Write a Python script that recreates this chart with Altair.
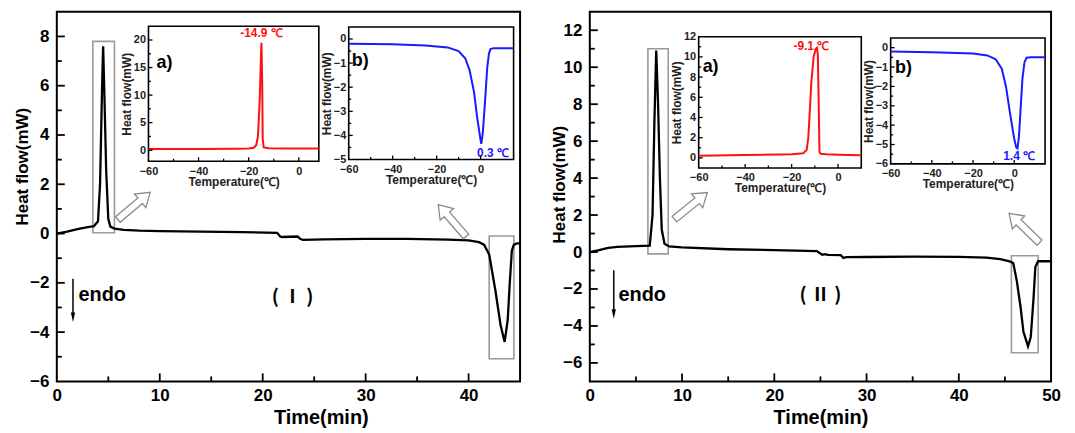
import altair as alt
import pandas as pd

FONT = "Liberation Sans"
CJK = "Noto Sans CJK SC"

# ---------------- data ----------------
# Panel (I): main DSC curve
time_I = [0, 1, 2, 3, 3.6, 4.0, 4.2, 4.4, 4.5, 4.6, 4.8, 5.0, 5.2, 5.6, 6.5, 8, 10, 14, 18, 21.4,
          21.7, 21.9, 23.4, 23.6, 23.9, 26, 30, 34, 38, 40, 41, 41.5, 42.0, 42.6, 43.1, 43.5, 43.8,
          44.0, 44.2, 44.4, 44.7, 45]
flow_I = [0.0, 0.08, 0.18, 0.26, 0.3, 0.5, 2.0, 6.0, 7.6, 6.0, 2.5, 0.6, 0.28, 0.2, 0.15, 0.12, 0.1,
          0.08, 0.06, 0.03, -0.12, -0.14, -0.12, -0.2, -0.26, -0.24, -0.22, -0.22, -0.25, -0.28,
          -0.35, -0.45, -0.85, -2.3, -3.7, -4.4, -3.5, -2.0, -0.7, -0.45, -0.4, -0.4]

# Panel (II): main DSC curve
time_II = [0, 1, 2, 3, 5, 6.5, 6.8, 7.0, 7.2, 7.4, 7.6, 7.8, 8.1, 8.6, 10, 15, 20, 24.6, 25.2, 25.5,
           25.8, 27.2, 27.5, 27.8, 30, 35, 40, 43, 44.5, 45.5, 45.9, 46.3, 46.7, 47.0, 47.5, 47.8,
           48.1, 48.3, 48.6, 50]
flow_II = [0.0, 0.1, 0.22, 0.28, 0.32, 0.35, 2.0, 7.0, 10.9, 8.0, 4.0, 1.2, 0.45, 0.3, 0.25, 0.15,
           0.1, 0.05, -0.15, -0.12, -0.15, -0.17, -0.32, -0.28, -0.27, -0.25, -0.26, -0.3, -0.38,
           -0.5, -0.6, -1.6, -3.0, -4.3, -5.1, -4.6, -2.5, -0.8, -0.5, -0.5]

# Insets: temperature (C) vs heat flow (mW)
tempA_I = [-60, -40, -25, -20, -18, -17, -16.3, -15.6, -15.1, -14.9, -14.6, -14.4, -14.0, -12, -5, 0, 8]
flowA_I = [0.2, 0.22, 0.27, 0.3, 0.45, 0.9, 2.5, 9.0, 17.0, 19.5, 12.0, 2.0, 0.5, 0.35, 0.3, 0.3, 0.3]
tempB_I = [-60, -40, -25, -15, -10, -7, -5, -3, -1.5, 0, 0.3, 1, 2, 3, 3.8, 4.5, 6, 15]
flowB_I = [-0.2, -0.22, -0.27, -0.35, -0.5, -0.8, -1.3, -2.2, -3.3, -4.2, -4.35, -3.9, -2.6, -1.2,
           -0.6, -0.42, -0.38, -0.38]
tempA_II = [-60, -40, -20, -15, -13.5, -12.8, -12.2, -11.5, -10.5, -9.6, -9.1, -8.7, -8.3, -8.0, -7.5, -5, 0, 10]
flowA_II = [0.2, 0.28, 0.35, 0.45, 0.8, 2.0, 4.5, 7.5, 10.0, 10.8, 10.9, 10.2, 5.0, 0.6, 0.4, 0.35, 0.3, 0.25]
tempB_II = [-60, -40, -20, -13, -9, -6, -4, -2, 0, 1, 1.6, 2.3, 3.2, 4, 5, 6, 8, 15]
flowB_II = [-0.2, -0.24, -0.3, -0.4, -0.6, -1.1, -2.0, -3.4, -4.7, -5.15, -5.2, -4.6, -3.0, -1.6,
            -0.75, -0.52, -0.5, -0.5]

# axis domains
xdom_I, ydom_I = [0, 45], [-6, 9]
xdom_II, ydom_II = [0, 50], [-7, 13]
xdomA_I, ydomA_I = [-60, 8], [-2, 22.5]
xdomB_I, ydomB_I = [-60, 15], [-5, 0.5]
xdomA_II, ydomA_II = [-60, 10], [-1, 12]
xdomB_II, ydomB_II = [-60, 15], [-6, 0.5]

# tick labels, major ticks, minor ticks
xlab_I = [0, 10, 20, 30, 40]
xmaj_I, xmin_I = [10, 20, 30, 40], [5, 15, 25, 35]
ylab_I = [-6, -4, -2, 0, 2, 4, 6, 8]
ymaj_I, ymin_I = [-4, -2, 0, 2, 4, 6, 8], [-5, -3, -1, 1, 3, 5, 7]
xlab_II = [0, 10, 20, 30, 40, 50]
xmaj_II, xmin_II = [10, 20, 30, 40], [5, 15, 25, 35, 45]
ylab_II = [-6, -4, -2, 0, 2, 4, 6, 8, 10, 12]
ymaj_II, ymin_II = [-6, -4, -2, 0, 2, 4, 6, 8, 10, 12], [-5, -3, -1, 1, 3, 5, 7, 9, 11]
xlab_T = [-60, -40, -20, 0]
xmaj_T, xmin_T = [-40, -20, 0], [-50, -30, -10]
ylabA_I, ymajA_I, yminA_I = [0, 5, 10, 15, 20], [0, 5, 10, 15, 20], [2.5, 7.5, 12.5, 17.5]
ylabB_I, ymajB_I, yminB_I = [-5, -4, -3, -2, -1, 0], [-4, -3, -2, -1, 0], [-4.5, -3.5, -2.5, -1.5, -0.5]
ylabA_II, ymajA_II, yminA_II = [0, 2, 4, 6, 8, 10, 12], [0, 2, 4, 6, 8, 10], [1, 3, 5, 7, 9, 11]
ylabB_II, ymajB_II, yminB_II = [-6, -5, -4, -3, -2, -1, 0], [-5, -4, -3, -2, -1, 0], [-5.5, -4.5, -3.5, -2.5, -1.5, -0.5]

# gray zoom boxes [t0, t1, y0, y1]
boxes_I = [[3.5, 5.6, 0.03, 7.8], [42.0, 44.4, -5.08, -0.1]]
boxes_II = [[6.3, 8.5, -0.1, 11.0], [45.7, 48.6, -5.45, -0.2]]
# hollow arrows (centre t, centre y)
arrows_I = [[7.5, 1.12], [38.4, 0.53]]
arrows_II = [[10.96, 2.5], [47.1, 1.3]]
# endo arrow [t, y_top, y_tip] and label [t, y]
endo_arrow_I, endo_text_I = [1.57, -1.83, -3.4], [2.1, -2.5]
endo_arrow_II, endo_text_II = [2.6, -0.99, -3.35], [3.1, -2.3]
roman_I, roman_II = [22.9, -2.57], [25.0, -2.34]
# inset annotations
tagA_I, peakA_I = [-56.8, 15.9], [-14.9, 21.2]
tagB_I, peakB_I = [-58.6, -0.9], [-1.6, -4.73]
tagA_II, peakA_II = [-58.3, 8.96], [-11.5, 11.1]
tagB_II, peakB_II = [-57.9, -1.06], [2.4, -5.6]

ARROW = "M -1 -0.17 L 0.38 -0.17 L 0.38 -0.42 L 1 0 L 0.38 0.42 L 0.38 0.17 L -1 0.17 Z"
HEAD = "M -0.45 -1 L 0.45 -1 L 0 1 Z"

H = 371


def pt(p):
    return pd.DataFrame({"x": [p[0]], "y": [p[1]]})


def inward_ticks(X, Y, xd, yd, xvals, yvals, size, width):
    """Inward-pointing tick marks on the bottom and left frame edges."""
    xdf = pd.DataFrame({"x": xvals, "y": [yd[0]] * len(xvals)})
    ydf = pd.DataFrame({"x": [xd[0]] * len(yvals), "y": yvals})
    tx = alt.Chart(xdf).mark_point(shape="M 0 -1 L 0 0", size=4 * size * size, filled=False,
                                   stroke="black", strokeWidth=width, opacity=1,
                                   strokeCap="butt").encode(x=X, y=Y)
    ty = alt.Chart(ydf).mark_point(shape="M 0 0 L 1 0", size=4 * size * size, filled=False,
                                   stroke="black", strokeWidth=width, opacity=1,
                                   strokeCap="butt").encode(x=X, y=Y)
    return [tx, ty]


def main_panel(time, flow, xd, yd, W, xlab, xmaj, xmin, ylab, ymaj, ymin, boxes, arrows,
               arrow_angles, endo_arrow, endo_text, roman, roman_txt, ytitle_pad,
               title_x=None, title_y=None):
    sx = alt.Scale(domain=xd, range=[0, W], nice=False, zero=False)
    sy = alt.Scale(domain=yd, range=[H, 0], nice=False, zero=False)
    axkw = dict(orient="bottom", values=xlab, format="d", tickSize=0, domain=False, grid=False,
                labelFont=FONT, labelFontSize=17, labelFontWeight="bold", labelColor="black",
                labelPadding=6, labelFlush=False, labelOverlap=False, title="Time(min)",
                titleFont=FONT, titleFontSize=20, titleFontWeight="bold", titleColor="black",
                titlePadding=4, zindex=1)
    if title_x is not None:
        axkw["titleX"] = title_x
    aykw = dict(orient="left", values=ylab, format="d", tickSize=0, domain=False, grid=False,
                labelFont=FONT, labelFontSize=17, labelFontWeight="bold", labelColor="black",
                labelPadding=8, labelFlush=False, labelOverlap=False, title="Heat flow(mW)",
                titleFont=FONT, titleFontSize=17, titleFontWeight="bold", titleColor="black",
                titlePadding=ytitle_pad, zindex=1)
    if title_y is not None:
        aykw["titleY"] = title_y
    ax, ay = alt.Axis(**axkw), alt.Axis(**aykw)
    X = alt.X("x:Q", scale=sx, axis=ax)
    Y = alt.Y("y:Q", scale=sy, axis=ay)

    line = alt.Chart(pd.DataFrame({"x": time, "y": flow})).mark_line(
        color="black", strokeWidth=2.3).encode(x=X, y=Y)
    bdf = pd.DataFrame({"x": [b[0] for b in boxes], "x2": [b[1] for b in boxes],
                        "y": [b[2] for b in boxes], "y2": [b[3] for b in boxes]})
    box = alt.Chart(bdf).mark_rect(fillOpacity=0, stroke="#9a9a9a", strokeWidth=1.6).encode(
        x=X, x2="x2", y=Y, y2="y2")
    layers = [box, line]
    layers += inward_ticks(X, Y, xd, yd, xmaj, ymaj, 8, 1.8)
    layers += inward_ticks(X, Y, xd, yd, xmin, ymin, 5, 1.8)
    for a, ang in zip(arrows, arrow_angles):
        layers.append(alt.Chart(pt(a)).mark_point(
            shape=ARROW, size=1800, angle=ang, filled=True, fill="white", fillOpacity=1,
            stroke="#8a8a8a", strokeWidth=1.3, opacity=1).encode(x=X, y=Y))
    rdf = pd.DataFrame({"x": [endo_arrow[0]], "y": [endo_arrow[1]], "y2": [endo_arrow[2]]})
    layers.append(alt.Chart(rdf).mark_rule(color="black", strokeWidth=1.5).encode(x=X, y=Y, y2="y2"))
    layers.append(alt.Chart(pt([endo_arrow[0], endo_arrow[2]])).mark_point(
        shape=HEAD, size=90, filled=True, color="black", opacity=1).encode(x=X, y=Y))
    layers.append(alt.Chart(pt(endo_text)).mark_text(
        text="endo", align="left", baseline="middle", font=FONT, fontSize=20,
        fontWeight="bold", color="black").encode(x=X, y=Y))
    layers.append(alt.Chart(pt(roman)).mark_text(
        text=roman_txt, align="center", baseline="middle", font=CJK, fontSize=19,
        fontWeight="bold", color="black").encode(x=X, y=Y))
    return [alt.layer(*layers)]


def inset(temp, flow, xd, yd, xr, yr, W, color, xlab, xmaj, xmin, ylab, ymaj, ymin,
          tag, tag_txt, peak, peak_txt, peak_align):
    sx = alt.Scale(domain=xd, range=xr, nice=False, zero=False)
    sy = alt.Scale(domain=yd, range=yr, nice=False, zero=False)
    xl, yb = xr[0], yr[0]
    ax = alt.Axis(orient="bottom", offset=yb - H, values=xlab, format="d", tickSize=0,
                  domain=False, grid=False, labelFont=FONT, labelFontSize=11,
                  labelFontWeight="bold", labelColor="#222", labelPadding=4, labelFlush=False,
                  labelOverlap=False, title="Temperature(℃)", titleFont=FONT, titleFontSize=12,
                  titleFontWeight="bold", titleColor="#222", titlePadding=0, zindex=1)
    ay = alt.Axis(orient="left", offset=-xl, values=ylab, tickSize=0,
                  domain=False, grid=False, labelFont=FONT, labelFontSize=11,
                  labelFontWeight="bold", labelColor="#222", labelPadding=3, labelFlush=False,
                  labelOverlap=False, title="Heat flow(mW)", titleFont=FONT, titleFontSize=12,
                  titleFontWeight="bold", titleColor="#222", titlePadding=0, zindex=1)
    X = alt.X("x:Q", scale=sx, axis=ax)
    Y = alt.Y("y:Q", scale=sy, axis=ay)
    fdf = pd.DataFrame({"x": [xd[0]], "x2": [xd[1]], "y": [yd[0]], "y2": [yd[1]]})
    frame = alt.Chart(fdf).mark_rect(fill="white", stroke="black", strokeWidth=1.6).encode(
        x=X, x2="x2", y=Y, y2="y2")
    line = alt.Chart(pd.DataFrame({"x": temp, "y": flow})).mark_line(
        color=color, strokeWidth=2).encode(x=X, y=Y)
    tag_m = alt.Chart(pt(tag)).mark_text(
        text=tag_txt, align="left", baseline="middle", font=FONT, fontSize=18,
        fontWeight="bold", color="black").encode(x=X, y=Y)
    peak_m = alt.Chart(pt(peak)).mark_text(
        text=peak_txt, align=peak_align, baseline="middle", font=FONT, fontSize=12,
        fontWeight="bold", color=color).encode(x=X, y=Y)
    layers = [frame, line, tag_m, peak_m]
    layers += inward_ticks(X, Y, xd, yd, xmaj, ymaj, 4, 1.3)
    layers += inward_ticks(X, Y, xd, yd, xmin, ymin, 2.5, 1.3)
    return [alt.layer(*layers)]


W1, W2 = 465, 463
RED, BLUE = "#ff1010", "#1a1aff"

pI = main_panel(time_I, flow_I, xdom_I, ydom_I, W1, xlab_I, xmaj_I, xmin_I, ylab_I, ymaj_I, ymin_I,
                boxes_I, arrows_I, [320, 229], endo_arrow_I, endo_text_I, roman_I, "( Ⅰ )", -2,
                title_x=265, title_y=155)
pI += inset(tempA_I, flowA_I, xdomA_I, ydomA_I, [92, 263], [150, 14.5], W1, RED,
            xlab_T, xmaj_T, xmin_T, ylabA_I, ymajA_I, yminA_I, tagA_I, "a)", peakA_I, "-14.9 ℃", "center")
pI += inset(tempB_I, flowB_I, xdomB_I, ydomB_I, [293, 458.5], [148.3, 15.2], W1, BLUE,
            xlab_T, xmaj_T, xmin_T, ylabB_I, ymajB_I, yminB_I, tagB_I, "b)", peakB_I, "0.3 ℃", "left")
panel_I = alt.layer(*pI).resolve_scale(x="independent", y="independent").properties(
    width=W1, height=H)

pII = main_panel(time_II, flow_II, xdom_II, ydom_II, W2, xlab_II, xmaj_II, xmin_II, ylab_II,
                 ymaj_II, ymin_II, boxes_II, arrows_II, [321, 224], endo_arrow_II, endo_text_II,
                 roman_II, "( Ⅱ )", -6, title_y=173)
pII += inset(tempA_II, flowA_II, xdomA_II, ydomA_II, [109.3, 272.5], [156.8, 25], W2, RED,
             xlab_T, xmaj_T, xmin_T, ylabA_II, ymajA_II, yminA_II, tagA_II, "a)", peakA_II, "-9.1 ℃", "center")
pII += inset(tempB_II, flowB_II, xdomB_II, ydomB_II, [302, 457], [152.7, 26.3], W2, BLUE,
             xlab_T, xmaj_T, xmin_T, ylabB_II, ymajB_II, yminB_II, tagB_II, "b)", peakB_II, "1.4 ℃", "center")
panel_II = alt.layer(*pII).resolve_scale(x="independent", y="independent").properties(
    width=W2, height=H)

chart = alt.hconcat(panel_I, panel_II, spacing=70, bounds="flush").properties(
    padding={"left": 4, "top": 2, "right": 5, "bottom": 0}
).configure(font=FONT).configure_view(stroke="black", strokeWidth=2)

chart.save("out.html", embed_options={"renderer": "svg", "actions": False})
